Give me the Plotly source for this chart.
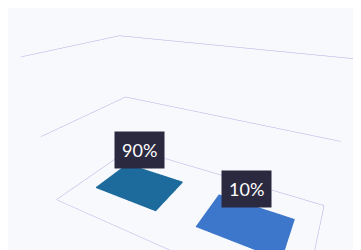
import plotly.graph_objects as go

# ---- data ----
categories = ["A", "B"]
values = [0.9, 0.1]          # shares (fractions)
labels = ["90%", "10%"]
bar_colors = ["#1d6b9c", "#3d77cc"]

z_range = [0, 100]
z_ticks = [0, 50, 100]
x_range = [0, len(categories)]
y_range = [0, 1]

bar_half_w = 0.32
bar_half_d = 0.22

fig = go.Figure()

for i, (cat, v, col) in enumerate(zip(categories, values, bar_colors)):
    cx = i + 0.5
    cy = 0.5
    x0, x1 = cx - bar_half_w, cx + bar_half_w
    y0, y1 = cy - bar_half_d, cy + bar_half_d
    xs = [x0, x1, x1, x0, x0, x1, x1, x0]
    ys = [y0, y0, y1, y1, y0, y0, y1, y1]
    zs = [0, 0, 0, 0, v, v, v, v]
    fig.add_trace(go.Mesh3d(
        x=xs, y=ys, z=zs,
        i=[0, 0, 4, 4, 0, 0, 1, 1, 2, 2, 3, 3],
        j=[1, 2, 5, 6, 1, 5, 2, 6, 3, 7, 0, 4],
        k=[2, 3, 6, 7, 5, 4, 6, 5, 7, 6, 4, 7],
        color=col, flatshading=True,
        lighting=dict(ambient=1, diffuse=0, specular=0, fresnel=0),
        hoverinfo="skip", showscale=False, name=cat,
    ))

axis_common = dict(showbackground=False, showticklabels=False, title=dict(text=""),
                   showspikes=False, zeroline=False)

fig.update_layout(
    width=361, height=250,
    margin=dict(l=0, r=0, t=0, b=0),
    paper_bgcolor="#f8f9fd",
    showlegend=False,
    scene=dict(
        xaxis=dict(range=x_range, showgrid=False, showline=True, linecolor="#aeaee2",
                   linewidth=1, **axis_common),
        yaxis=dict(range=y_range, showgrid=False, showline=True, linecolor="#aeaee2",
                   linewidth=1, **axis_common),
        zaxis=dict(range=z_range, tickvals=z_ticks, showgrid=True, gridcolor="#aeaee2",
                   gridwidth=1, showline=False, **axis_common),
        aspectmode="manual",
        aspectratio=dict(x=2.0, y=1.0, z=1.2),
        camera=dict(eye=dict(x=0.95, y=-1.75, z=1.05), center=dict(x=0, y=0, z=0.05)),
        annotations=[
            dict(x=i + 0.5, y=0.5, z=v, text=lab, showarrow=False,
                 bgcolor="#2b2940", font=dict(color="white", size=18, family="Lato"),
                 borderpad=7, yshift=34)
            for i, (v, lab) in enumerate(zip(values, labels))
        ],
    ),
)

fig.write_html("out.html")
